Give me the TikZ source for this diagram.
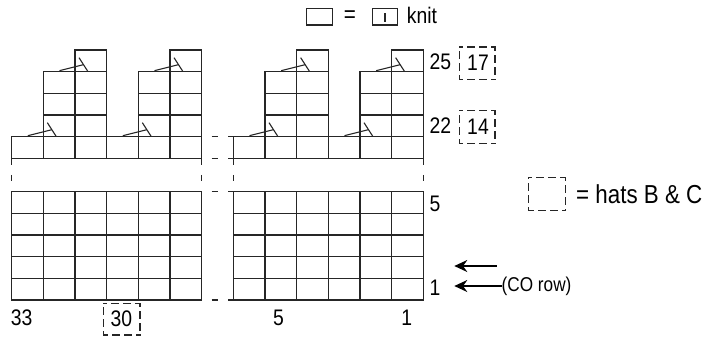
\documentclass[tikz,border=0pt]{standalone}
\usepackage{fontspec}
\setmainfont{Liberation Sans}[FakeStretch=0.86]
\usetikzlibrary{arrows.meta}
\newcommand\decsym[2]{%
  \draw[decline] ({#1-15.5},{#2-1}) -- ({#1+8.5},{#2-7});
  \draw[decline] ({#1+4},{#2-14}) -- ({#1+13},{#2});
}
\newcommand\hatrect[4]{%
  \draw[hatbox] (#1,#2) -- (#3,#2);
  \draw[hatbox] (#3,#2) -- (#3,#4);
  \draw[hatbox] (#3,#4) -- (#1,#4);
  \draw[hatbox] (#1,#4) -- (#1,#2);
}
\begin{document}
\begin{tikzpicture}[x=1pt,y=-1pt,
  cell/.style={line width=1.2pt, draw=black!85},
  decline/.style={line width=1.1pt, draw=black!85},
  gapdash/.style={line width=1.2pt, draw=black!85},
  hatbox/.style={line width=1.4pt, draw=black!85, line cap=rect, dash pattern=on 6.5pt off 5.5pt, dash phase=3.25pt},
  lbl/.style={inner sep=0pt, font=\fontsize{22.5}{25}\selectfont},
  arr/.style={line width=1.2pt, -{Stealth[length=13pt,width=12pt]}}]
\useasboundingbox (0,0) rectangle (717,341);
\def\cw{31.667}
\def\rh{21.667}
% ---------- charts (two halves) ----------
\foreach \ox in {0,221.667}{
  % top part: bottom row
  \foreach \i in {0,...,5}
    \draw[cell] ({11.667+\ox+\i*\cw},136.667) rectangle ++(\cw,\rh);
  % stacks
  \foreach \i in {1,2,4,5}
    \foreach \r in {71.667,93.333,115}
      \draw[cell] ({11.667+\ox+\i*\cw},\r) rectangle ++(\cw,\rh);
  % top cells
  \foreach \i in {2,5}
    \draw[cell] ({11.667+\ox+\i*\cw},50) rectangle ++(\cw,\rh);
  % bottom part
  \foreach \i in {0,...,5}
    \foreach \k in {0,...,4}
      \draw[cell] ({11.667+\ox+\i*\cw},{191.667+\k*\rh}) rectangle ++(\cw,\rh);
  % decrease symbols
  \decsym{43.333+\ox}{136.667}
  \decsym{138.333+\ox}{136.667}
  \decsym{75+\ox}{71.667}
  \decsym{170+\ox}{71.667}
}
% vertical dashed breaks
\foreach \x in {11.667,201.667,233.333,423.333}
  \draw[gapdash, dash pattern=on 6.5pt off 10pt] (\x,158.333) -- (\x,191.667);
% horizontal dashed breaks
\foreach \y in {136.667,158.333,191.667,300}{
  \draw[gapdash] (211.7,\y) -- (218.3,\y);
  \draw[gapdash] (228.3,\y) -- (233.333,\y);
}
% ---------- row numbers ----------
\node[lbl, anchor=west] (r25) at (429.5,62) {25};
\node[lbl, anchor=west] (r22) at (429.5,126) {22};
\node[lbl, anchor=west] (r5) at (429.5,203.5) {5};
\node[lbl, anchor=west] (r1) at (429.5,288) {1};
\hatrect{459.3}{47}{495}{79.3}
\node[lbl] (h17) at (478,63) {17};
\hatrect{459.3}{110.7}{495}{143.3}
\node[lbl] (h14) at (478,127) {14};
% ---------- column numbers ----------
\node[lbl] (c33) at (21.7,318) {33};
\hatrect{103.3}{303.3}{140}{335}
\node[lbl] (c30) at (121.5,319) {30};
\node[lbl] (c5) at (278.5,318) {5};
\node[lbl] (c1) at (406.7,318) {1};
% ---------- arrows ----------
\coordinate (a1s) at (496.7,266);
\coordinate (a1e) at (454.3,266);
\node[lbl, anchor=west, font=\fontsize{20}{22}\selectfont] (co) at (501.5,286.5) {(CO row)};
\coordinate (a2e) at (454.3,286);
\draw[arr] (a1s) -- (a1e);
\draw[arr] (co.west |- a2e) -- (a2e);
% ---------- legends ----------
\draw[cell] (306.7,8.3) rectangle (332.3,25);
\node[lbl, font=\fontsize{24}{26}\selectfont] (eq1) at (350,16.5) {=};
\draw[cell] (372.7,8.3) rectangle (397.3,25);
\draw[cell] (385,13.3) -- (385,21.7);
\node[lbl, anchor=base west] (knit) at (406.7,23.8) {knit};
\hatrect{528.3}{177.3}{565.7}{210.7}
\node[lbl, anchor=west, font=\fontsize{26}{29}\selectfont] (hats) at (576,194) {= hats B \& C};
\end{tikzpicture}
\end{document}
